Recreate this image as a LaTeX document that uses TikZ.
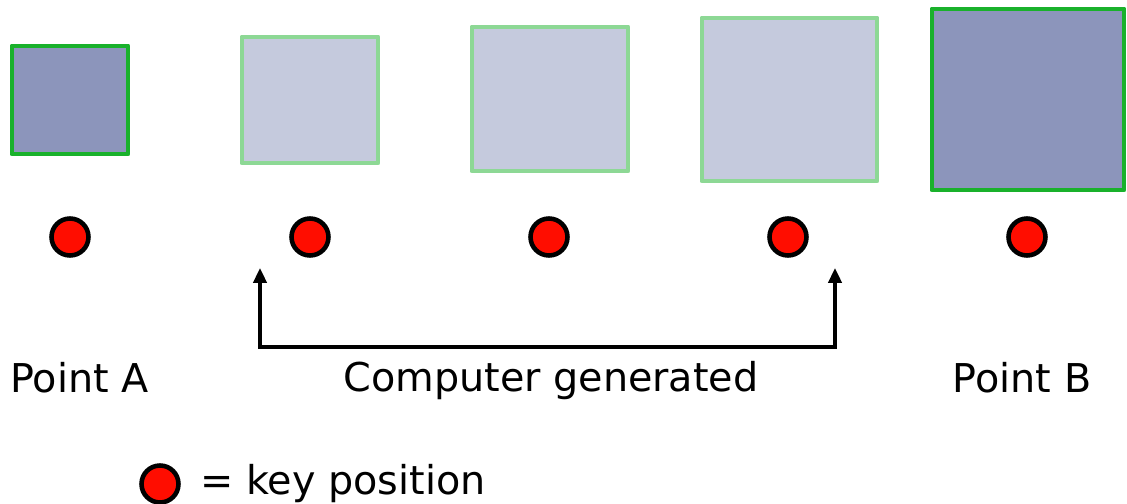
\documentclass[tikz,border=0pt]{standalone}
\usepackage{fontspec}
\setmainfont{DejaVu Sans}
\usetikzlibrary{arrows.meta}
\definecolor{darkfill}{HTML}{8C95BB}
\definecolor{lightfill}{HTML}{C5CADD}
\definecolor{darkgreen}{HTML}{19B12B}
\definecolor{lightgreen}{HTML}{8DD895}
\definecolor{keyred}{HTML}{FF0D00}
\tikzset{
  keybox/.style={draw=darkgreen, fill=darkfill, line width=2.8pt, line join=round},
  genbox/.style={draw=lightgreen, fill=lightfill, line width=2.8pt, line join=round},
  keydot/.style={circle, draw=black, fill=keyred, line width=2.6pt, minimum size=0.74cm, inner sep=0pt},
  lbl/.style={inner sep=0pt, font=\fontsize{22.6}{26}\selectfont},
  bracket/.style={draw=black, line width=2.2pt, {Triangle[width=7.5pt,length=8.5pt]}-{Triangle[width=7.5pt,length=8.5pt]}}
}
\begin{document}
\begin{tikzpicture}[x=0.02cm, y=-0.02cm]
\useasboundingbox (0,0) rectangle (1127,504);
% boxes
\draw[keybox] (12,46) rectangle (128,154);
\draw[genbox] (242,37) rectangle (378,163);
\draw[genbox] (472,27) rectangle (628,171);
\draw[genbox] (702,18) rectangle (877,181);
\draw[keybox] (932,9) rectangle (1124,190);
% key positions
\node[keydot] (k1) at (70,237) {};
\node[keydot] (k2) at (310,237) {};
\node[keydot] (k3) at (549,237) {};
\node[keydot] (k4) at (788,237) {};
\node[keydot] (k5) at (1027,237) {};
% bracket
\coordinate (bl) at (260,268);
\coordinate (br) at (835,268);
\draw[bracket] (bl) -- (260,347) -- (835,347) -- (br);
% labels
\node[lbl, anchor=base west] (pa) at (10,392) {Point A};
\node[lbl, anchor=base] (cg) at (551,391) {Computer generated};
\node[lbl, anchor=base] (pb) at (1022,392) {Point B};
% legend
\node[keydot] (lg) at (160,484) {};
\node[lbl, anchor=base west] (lt) at (200,494) {= key position};
\end{tikzpicture}
\end{document}
